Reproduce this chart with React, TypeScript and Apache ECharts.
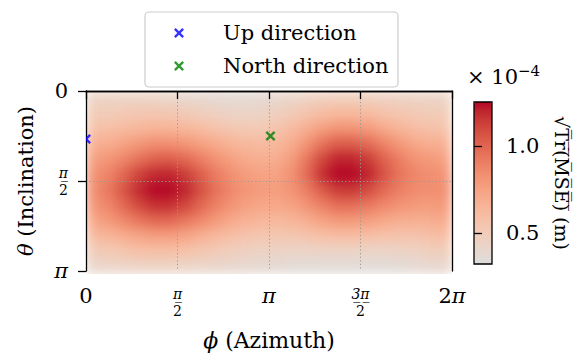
import React, { useEffect, useRef } from "react";
import * as echarts from "echarts";

const FONT = "DejaVu Serif";

// axis ticks, in multiples of π
const phiTickValues = [0, 0.5, 1, 1.5, 2];
const thetaTickValues = [0, 0.5, 1];
// colorbar (×10^-4 m)
const colorbarTickValues = [0.5, 1.0];
const colorbarMin = 0.322;
const colorbarMax = 1.253;

// sqrt(Tr(MSE)) ×1e-4, rows: θ from 0 to π (12 rows), columns: φ from 0 to 2π (24 cols)
const rmseRows: number[][] = [
  [0.44, 0.44, 0.44, 0.44, 0.43, 0.42, 0.40, 0.39, 0.38, 0.37, 0.37, 0.38, 0.40, 0.42, 0.45, 0.47, 0.48, 0.48, 0.47, 0.46, 0.45, 0.45, 0.44, 0.44],
  [0.50, 0.50, 0.52, 0.53, 0.54, 0.53, 0.51, 0.48, 0.46, 0.44, 0.43, 0.44, 0.47, 0.51, 0.56, 0.60, 0.63, 0.63, 0.61, 0.57, 0.54, 0.52, 0.50, 0.50],
  [0.57, 0.59, 0.62, 0.64, 0.66, 0.66, 0.64, 0.61, 0.57, 0.54, 0.52, 0.52, 0.56, 0.61, 0.69, 0.77, 0.82, 0.82, 0.79, 0.72, 0.66, 0.61, 0.58, 0.57],
  [0.67, 0.70, 0.75, 0.80, 0.84, 0.84, 0.81, 0.76, 0.71, 0.66, 0.63, 0.61, 0.63, 0.70, 0.82, 0.95, 1.03, 1.03, 0.98, 0.89, 0.80, 0.73, 0.69, 0.67],
  [0.76, 0.81, 0.88, 0.96, 1.02, 1.03, 0.99, 0.91, 0.83, 0.76, 0.71, 0.68, 0.69, 0.78, 0.94, 1.10, 1.20, 1.20, 1.14, 1.02, 0.91, 0.83, 0.79, 0.76],
  [0.82, 0.89, 1.00, 1.12, 1.19, 1.20, 1.14, 1.03, 0.92, 0.84, 0.78, 0.75, 0.75, 0.83, 0.98, 1.17, 1.25, 1.25, 1.20, 1.07, 0.95, 0.88, 0.84, 0.82],
  [0.84, 0.93, 1.06, 1.19, 1.25, 1.25, 1.20, 1.08, 0.96, 0.87, 0.81, 0.78, 0.77, 0.82, 0.91, 1.04, 1.14, 1.15, 1.09, 0.99, 0.91, 0.86, 0.84, 0.84],
  [0.80, 0.88, 0.99, 1.10, 1.17, 1.17, 1.11, 1.00, 0.90, 0.82, 0.76, 0.73, 0.72, 0.75, 0.82, 0.90, 0.97, 0.97, 0.93, 0.87, 0.82, 0.79, 0.78, 0.79],
  [0.73, 0.79, 0.87, 0.94, 0.99, 0.99, 0.94, 0.87, 0.79, 0.72, 0.67, 0.64, 0.63, 0.65, 0.69, 0.75, 0.79, 0.79, 0.77, 0.72, 0.69, 0.68, 0.69, 0.71],
  [0.62, 0.65, 0.70, 0.74, 0.77, 0.77, 0.74, 0.68, 0.63, 0.59, 0.56, 0.54, 0.53, 0.54, 0.56, 0.58, 0.60, 0.60, 0.59, 0.57, 0.56, 0.56, 0.58, 0.60],
  [0.50, 0.52, 0.55, 0.58, 0.59, 0.59, 0.57, 0.54, 0.51, 0.48, 0.46, 0.45, 0.44, 0.43, 0.43, 0.44, 0.44, 0.44, 0.43, 0.43, 0.44, 0.45, 0.47, 0.49],
  [0.41, 0.42, 0.43, 0.44, 0.44, 0.44, 0.43, 0.42, 0.41, 0.40, 0.39, 0.38, 0.37, 0.36, 0.35, 0.35, 0.35, 0.35, 0.35, 0.35, 0.36, 0.37, 0.39, 0.40],
];

// markers [φ/π, θ/π]
const upDirection = [[0.0, 0.262]];
const northDirection = [[1.008, 0.246]];

const seriesNames = ["Up direction", "North direction"];
const markerColors = ["#0000ff", "#008000"];

// upper half of the coolwarm colormap
const coolwarmUpper = [
  "#dddddd", "#e5d8d1", "#ecd3c5", "#f1ccb9", "#f5c4ad", "#f7bba0", "#f7b194", "#f7a687",
  "#f49a7b", "#f18d6f", "#ec7f63", "#e57058", "#de604d", "#d55042", "#cb3e38", "#c0282f", "#b40426",
];

const phiCategories = rmseRows[0].map((_, j) => String(j));
const thetaCategories = rmseRows.map((_, i) => String(i));
const heatData = rmseRows.flatMap((row, i) => row.map((v, j) => [j, i, v]));

const crossPath =
  "path://M0,1.7L1.7,0L5,3.3L8.3,0L10,1.7L6.7,5L10,8.3L8.3,10L5,6.7L1.7,10L0,8.3L3.3,5Z";

const FS = 21;

const tickRich: any = {
  r: { fontFamily: FONT, fontSize: FS, color: "#000" },
  p: { fontFamily: FONT, fontSize: FS, fontStyle: "italic", color: "#000" },
  n: { fontFamily: FONT, fontSize: 14, fontStyle: "italic", lineHeight: 17, align: "center", color: "#000" },
  d: { fontFamily: FONT, fontSize: 14, lineHeight: 17, align: "center", color: "#000" },
};

function piLabel(v: number): string {
  const k = Math.round(v * 2);
  if (k === 0) return "{r|0}";
  if (k === 1) return "{n|π\u0332}\n{d|2}";
  if (k === 2) return "{p|π}";
  if (k === 3) return "{n|3\u0332π\u0332}\n{d|2}";
  if (k === 4) return "{r|2}{p|π}";
  return "";
}

const black = { color: "#000", width: 1.3 };
const gridDots = { type: [1.2, 2.4], color: "#9a9a9a", width: 1 };
const splitDots = { show: true, showMinLine: false, showMaxLine: false, lineStyle: gridDots };

function markerSeries(withData: boolean) {
  return [upDirection, northDirection].map((d, k) => ({
    type: "scatter",
    name: seriesNames[k],
    data: withData ? d : [],
    symbol: crossPath,
    symbolSize: 10,
    symbolKeepAspect: true,
    itemStyle: { color: markerColors[k] },
    z: 6,
  }));
}

export default function App() {
  const mainRef = useRef<HTMLDivElement>(null);
  const heatRef = useRef<HTMLDivElement>(null);
  const markRef = useRef<HTMLDivElement>(null);
  useEffect(() => {
    if (!mainRef.current || !heatRef.current || !markRef.current) return;
    const heat = echarts.init(heatRef.current, null, { renderer: "svg" });
    heat.setOption({
      animation: false,
      grid: { left: 0, top: 0, right: 0, bottom: 0 },
      xAxis: { type: "category", data: phiCategories, show: false },
      yAxis: { type: "category", data: thetaCategories, inverse: true, show: false },
      visualMap: { show: false, type: "continuous", min: colorbarMin, max: colorbarMax, seriesIndex: 0, inRange: { color: coolwarmUpper } },
      series: [{ type: "heatmap", data: heatData, progressive: 0, itemStyle: { borderWidth: 0 }, emphasis: { disabled: true } }],
    });

    const marks = echarts.init(markRef.current, null, { renderer: "svg" });
    marks.setOption({
      animation: false,
      grid: { left: 0, top: 0, right: 0, bottom: 0 },
      xAxis: { type: "value", min: 0, max: 2, show: false },
      yAxis: { type: "value", min: 0, max: 1, inverse: true, show: false },
      series: markerSeries(true).map((s) => ({ ...s, clip: false })),
    });

    const chart = echarts.init(mainRef.current, null, { renderer: "svg" });
    const option: any = {
      animation: false,
      backgroundColor: "transparent",
      textStyle: { fontFamily: FONT },
      grid: [
        { left: 86, top: 91, width: 366, height: 183, show: false },
        { left: 474, top: 102, width: 18, height: 162, show: true, borderColor: "#000", borderWidth: 1.3, backgroundColor: "transparent", z: 10 },
      ],
      xAxis: [
        {
          type: "value", gridIndex: 0, min: 0, max: 2, interval: 0.5, position: "bottom", z: 3,
          axisLine: { show: true, lineStyle: black },
          axisTick: { show: true, length: 8, lineStyle: black },
          axisLabel: { margin: 14, formatter: piLabel, rich: tickRich },
          splitLine: splitDots,
          name: "{i|ϕ} (Azimuth)", nameLocation: "middle", nameGap: 58,
          nameTextStyle: { fontFamily: FONT, fontSize: 22, color: "#000", rich: { i: { fontFamily: FONT, fontSize: 22, fontStyle: "italic", color: "#000" } } },
        },
        {
          type: "category", gridIndex: 0, data: phiCategories, position: "top", z: 4,
          axisLine: { show: true, lineStyle: black }, axisTick: { show: false }, axisLabel: { show: false }, splitLine: { show: false },
        },
        { type: "value", gridIndex: 1, show: false, min: 0, max: 1 },
      ],
      yAxis: [
        {
          type: "value", gridIndex: 0, min: 0, max: 1, interval: 0.5, inverse: true, position: "left", z: 3,
          axisLine: { show: true, lineStyle: black },
          axisTick: { show: true, length: 8, lineStyle: black },
          axisLabel: { margin: 18, formatter: piLabel, rich: tickRich },
          splitLine: splitDots,
          name: "{i|θ} (Inclination)", nameLocation: "middle", nameGap: 50, nameRotate: 90,
          nameTextStyle: { fontFamily: FONT, fontSize: FS, color: "#000", rich: { i: { fontFamily: FONT, fontSize: FS, fontStyle: "italic", color: "#000" } } },
        },
        {
          type: "category", gridIndex: 0, data: thetaCategories, inverse: true, position: "right", z: 4,
          axisLine: { show: true, lineStyle: black }, axisTick: { show: false }, axisLabel: { show: false }, splitLine: { show: false },
        },
        {
          type: "value", gridIndex: 1, min: colorbarMin, max: colorbarMax, position: "right", z: 11,
          axisLine: { show: false },
          axisTick: { show: true, length: 8, customValues: colorbarTickValues, lineStyle: black },
          axisLabel: { margin: 14, customValues: colorbarTickValues, formatter: (v: number) => v.toFixed(1), fontFamily: FONT, fontSize: FS, color: "#000" },
          splitLine: { show: false },
          name: "√T\u0305r\u0305(\u0305M\u0305S\u0305E\u0305)\u0305 (m)", nameLocation: "middle", nameGap: 60, nameRotate: -90,
          nameTextStyle: { fontFamily: FONT, fontSize: 19, color: "#000" },
        },
      ],
      visualMap: {
        type: "continuous", seriesIndex: [], min: colorbarMin, max: colorbarMax, calculable: false,
        orient: "vertical", left: 474, top: 102, itemWidth: 18, itemHeight: 162, padding: 0,
        inRange: { color: coolwarmUpper }, hoverLink: false, z: 4,
      },
      legend: {
        orient: "vertical", left: 174, top: 21, padding: 0, itemWidth: 78, itemHeight: 10, itemGap: 9,
        data: seriesNames, selectedMode: false,
        textStyle: { fontFamily: FONT, fontSize: FS, color: "#000", lineHeight: 24 },
        z: 20,
      },
      graphic: [
        { type: "rect", shape: { x: 145, y: 12, width: 253, height: 75, r: 4 }, style: { fill: "rgba(255,255,255,0.85)", stroke: "#cccccc", lineWidth: 1.2 }, z: 15 },
        {
          type: "text", left: 467, top: 63, z: 20,
          style: {
            text: "{a|× 10}{s|−4}",
            rich: {
              a: { fontFamily: FONT, fontSize: FS, color: "#000" },
              s: { fontFamily: FONT, fontSize: 15, color: "#000", padding: [0, 0, 12, 0] },
            },
          },
        },
      ],
      series: markerSeries(false).map((s) => ({ ...s, xAxisIndex: 0, yAxisIndex: 0 })),
    };
    chart.setOption(option);
    return () => {
      chart.dispose();
      marks.dispose();
      heat.dispose();
    };
  }, []);
  return (
    <div style={{ position: "fixed", left: 0, top: 0, width: 579, height: 356, background: "#fff", overflow: "hidden" }}>
      <svg width={0} height={0} style={{ position: "absolute" }}>
        <defs>
          <filter id="smooth" x="0" y="0" width="1" height="1" colorInterpolationFilters="sRGB">
            <feGaussianBlur stdDeviation="6" edgeMode="duplicate" />
          </filter>
        </defs>
      </svg>
      <div style={{ position: "absolute", left: 86, top: 91, width: 366, height: 183, overflow: "hidden" }}>
        <div ref={heatRef} style={{ width: 366, height: 183, filter: "url(#smooth)" }} />
      </div>
      <div ref={mainRef} style={{ position: "absolute", left: 0, top: 0, width: 579, height: 356 }} />
      <div style={{ position: "absolute", left: 86, top: 91, width: 366, height: 183, overflow: "hidden" }}>
        <div ref={markRef} style={{ width: 366, height: 183 }} />
      </div>
    </div>
  );
}
